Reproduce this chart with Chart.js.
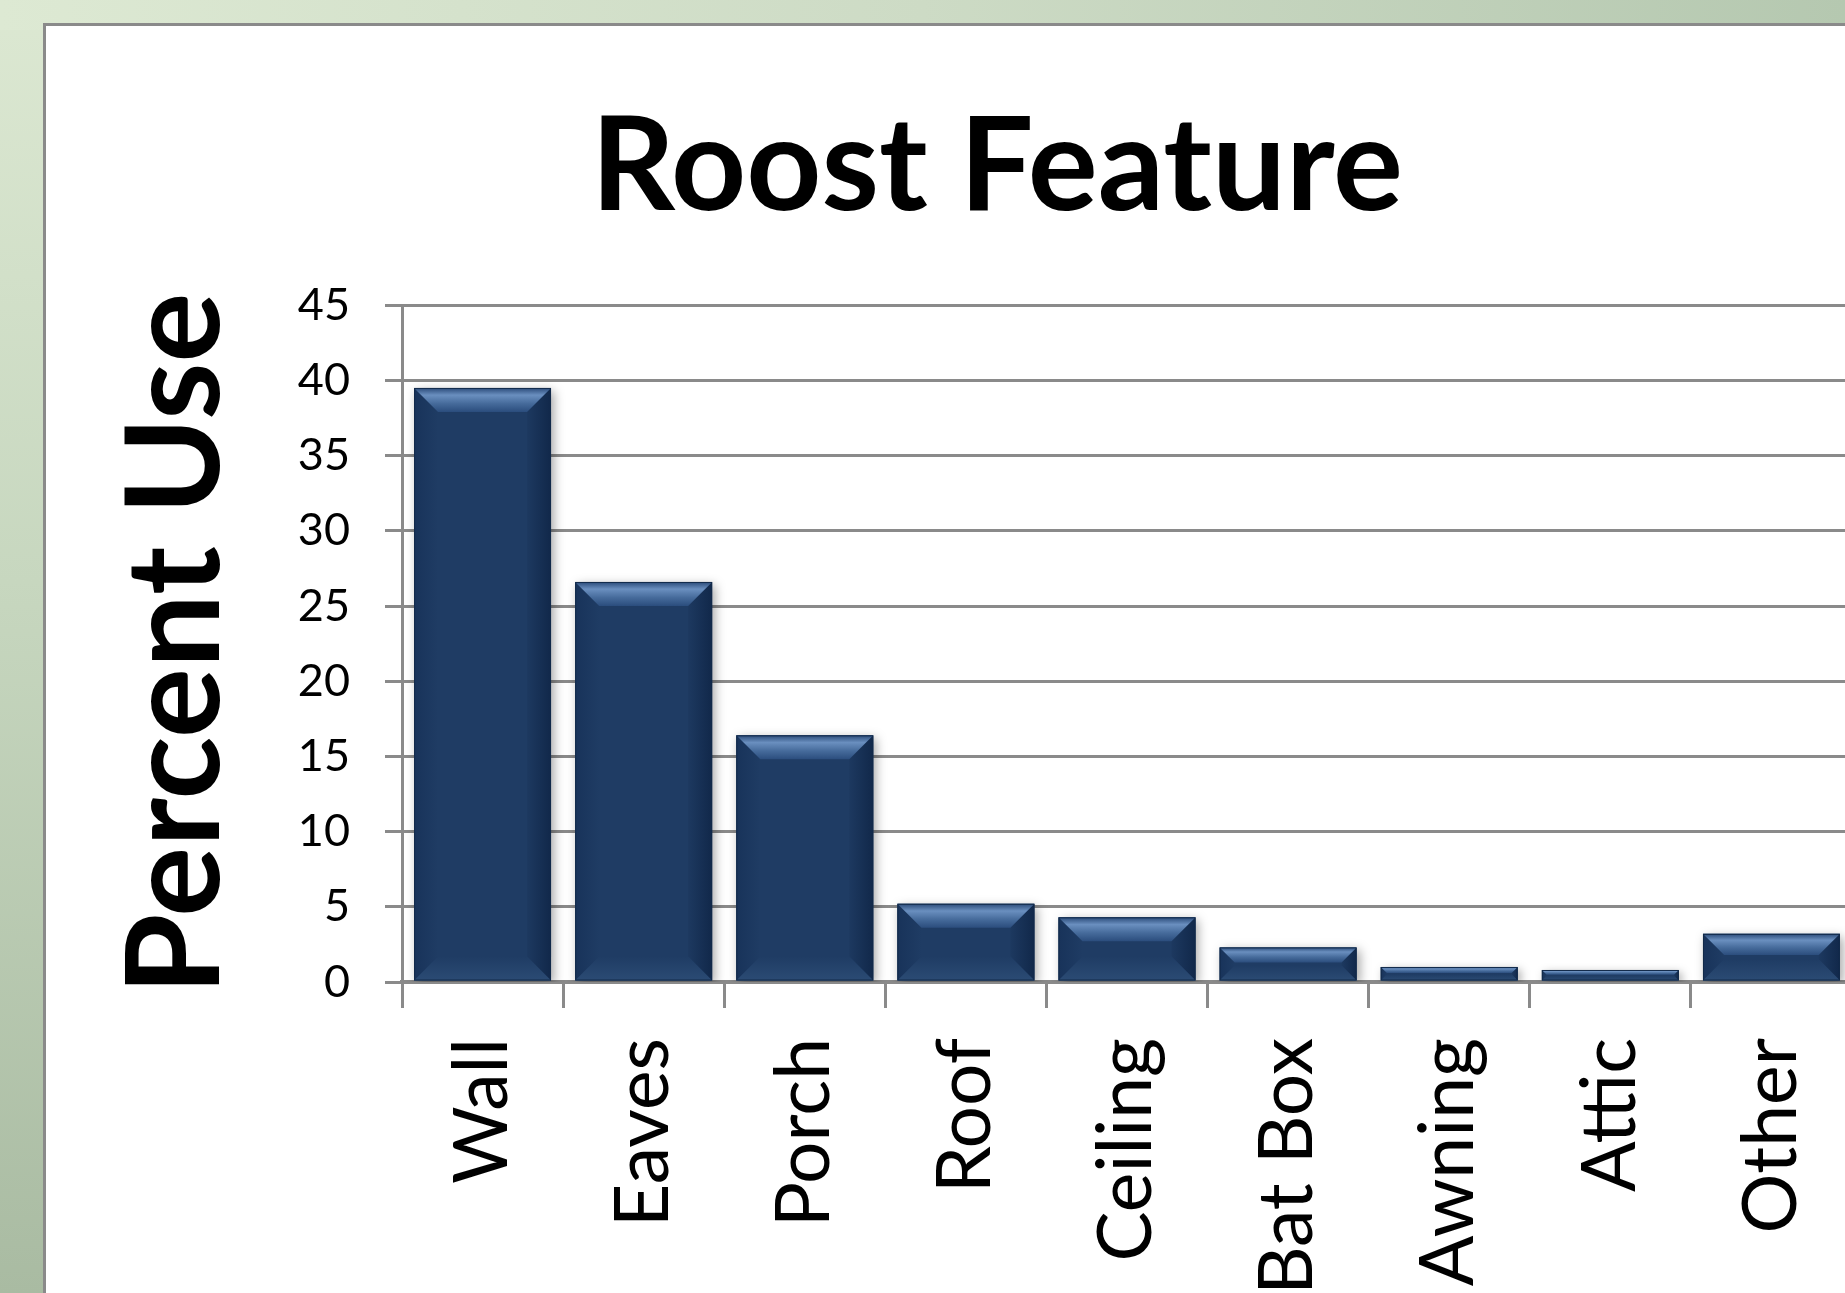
<!DOCTYPE html>
<html>
<head>
<meta charset="utf-8">
<title>Roost Feature</title>
<script src="https://cdn.jsdelivr.net/npm/chart.js@4/dist/chart.umd.min.js"></script>
<style>
  html, body { margin: 0; padding: 0; width: 1845px; height: 1293px; overflow: hidden; }
  body { position: relative; background: linear-gradient(to bottom, #dce8d2 0%, #c7d7bf 45%, #a9bba2 100%); }
  #topband { position: absolute; left: 0; top: 0; width: 1845px; height: 30px;
             background: linear-gradient(to right, #dde9d3 0%, #cddbc5 50%, #b5c8b0 100%); }
  #panel { position: absolute; left: 43px; top: 23px; width: 1900px; height: 1400px;
           background: #fff; border-left: 3px solid #8a8a8a; border-top: 3px solid #8a8a8a; }
  #roostChart { position: absolute; left: 0; top: 0; }
</style>
</head>
<body>
<div id="topband"></div>
<div id="panel"></div>
<canvas id="roostChart" width="1900" height="1293"></canvas>
<script>
(() => {
  'use strict'

  // data
  const categories = ['Wall', 'Eaves', 'Porch', 'Roof', 'Ceiling', 'Bat Box', 'Awning', 'Attic', 'Other'];
  const percentUse = [39.5, 26.6, 16.4, 5.2, 4.3, 2.3, 1.0, 0.8, 3.2];
  const yTickValues = [0, 5, 10, 15, 20, 25, 30, 35, 40, 45];

  const GRID = '#8a8a8a';
  const BAR = '#1f3c64';

  Chart.defaults.font.family = 'Lato, "Open Sans", sans-serif';
  Chart.defaults.color = '#000';

  // soft shadow under the bars
  const barShadow = {
    id: 'barShadow',
    beforeDatasetsDraw(chart) {
      const ctx = chart.ctx;
      ctx.save();
      ctx.shadowColor = 'rgba(0,0,0,0.35)';
      ctx.shadowBlur = 10;
      ctx.shadowOffsetX = 3;
      ctx.shadowOffsetY = 3;
    },
    afterDatasetsDraw(chart) {
      chart.ctx.restore();
    }
  };

  // bevel look on top of each bar, taken from the bar elements
  const barBevel = {
    id: 'barBevel',
    afterDatasetsDraw(chart) {
      const ctx = chart.ctx;
      chart.getDatasetMeta(0).data.forEach(bar => {
        const p = bar.getProps(['x', 'y', 'base', 'width'], true);
        const l = p.x - p.width / 2, r = p.x + p.width / 2;
        const t = p.y, b = p.base;
        const d = Math.min(24, (b - t) / 2.2);
        if (d <= 0) return;

        ctx.save();
        // left side
        let g = ctx.createLinearGradient(l, 0, l + d, 0);
        g.addColorStop(0, '#18335a');
        g.addColorStop(1, '#1f3c64');
        ctx.fillStyle = g;
        ctx.beginPath();
        ctx.moveTo(l, t); ctx.lineTo(l + d, t + d); ctx.lineTo(l + d, b - d); ctx.lineTo(l, b);
        ctx.closePath(); ctx.fill();
        // right side
        g = ctx.createLinearGradient(r - d, 0, r, 0);
        g.addColorStop(0, '#1d3960');
        g.addColorStop(1, '#11284a');
        ctx.fillStyle = g;
        ctx.beginPath();
        ctx.moveTo(r, t); ctx.lineTo(r - d, t + d); ctx.lineTo(r - d, b - d); ctx.lineTo(r, b);
        ctx.closePath(); ctx.fill();
        // bottom
        g = ctx.createLinearGradient(0, b - d, 0, b);
        g.addColorStop(0, '#1f3c64');
        g.addColorStop(1, '#2b4b74');
        ctx.fillStyle = g;
        ctx.beginPath();
        ctx.moveTo(l, b); ctx.lineTo(l + d, b - d); ctx.lineTo(r - d, b - d); ctx.lineTo(r, b);
        ctx.closePath(); ctx.fill();
        // top, lighter band
        g = ctx.createLinearGradient(0, t, 0, t + d);
        g.addColorStop(0, '#2a4a78');
        g.addColorStop(0.3, '#6a8fbf');
        g.addColorStop(0.65, '#466b9b');
        g.addColorStop(1, '#2b4d7d');
        ctx.fillStyle = g;
        ctx.beginPath();
        ctx.moveTo(l, t); ctx.lineTo(r, t); ctx.lineTo(r - d, t + d); ctx.lineTo(l + d, t + d);
        ctx.closePath(); ctx.fill();
        // thin edge
        ctx.strokeStyle = '#122a4a';
        ctx.lineWidth = 1;
        ctx.strokeRect(l + 0.5, t + 0.5, r - l - 1, b - t - 1);
        ctx.restore();
      });
    }
  };

  const ctx = document.getElementById('roostChart');
  // eslint-disable-next-line no-unused-vars
  const roostChart = new Chart(ctx, {
    type: 'bar',
    data: {
      labels: categories,
      datasets: [{
        data: percentUse,
        backgroundColor: BAR,
        borderWidth: 0,
        categoryPercentage: 1,
        barPercentage: 0.85
      }]
    },
    plugins: [barShadow, barBevel],
    options: {
      responsive: false,
      animation: false,
      devicePixelRatio: 1,
      // left padding keeps the title centred like the original slide,
      // the plot runs on past the right edge of the window
      layout: { padding: { left: 142, right: 48, top: 0, bottom: 0 } },
      plugins: {
        legend: { display: false },
        tooltip: { enabled: false },
        title: {
          display: true,
          text: 'Roost Feature',
          font: { size: 131, weight: 'bold' },
          color: '#000',
          padding: { top: 89, bottom: 59 }
        }
      },
      scales: {
        x: {
          grid: {
            display: true,
            offset: true,
            drawOnChartArea: false,
            drawTicks: true,
            tickLength: 26,
            color: GRID,
            lineWidth: 3
          },
          border: { display: true, color: GRID, width: 4 },
          ticks: {
            autoSkip: false,
            minRotation: 90,
            maxRotation: 90,
            padding: 30,
            font: { size: 75 },
            color: '#000'
          },
          afterFit(scale) { scale.height = 311; }
        },
        y: {
          min: 0,
          max: 45,
          afterBuildTicks(scale) {
            scale.ticks = yTickValues.map(v => ({ value: v }));
          },
          grid: {
            color: GRID,
            lineWidth: 3,
            drawTicks: true,
            tickLength: 17
          },
          border: { display: true, color: GRID, width: 3 },
          ticks: {
            padding: 35,
            font: { size: 45 },
            color: '#000'
          },
          title: {
            display: true,
            text: 'Percent Use',
            font: { size: 131, weight: 'bold', lineHeight: 0.5 },
            color: '#000',
            padding: { top: 2, bottom: 0 }
          },
          afterFit(scale) { scale.width = 260; }
        }
      }
    }
  });
})()
</script>
</body>
</html>
